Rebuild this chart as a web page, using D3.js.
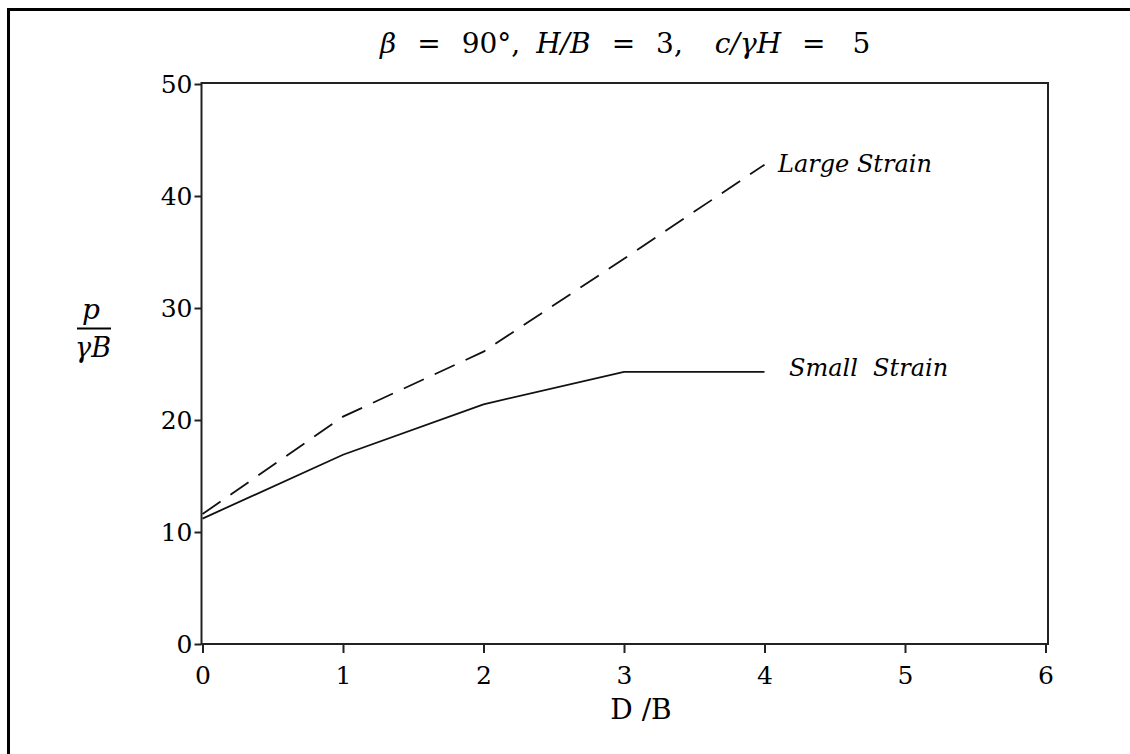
<!DOCTYPE html>
<html>
<head>
<meta charset="utf-8">
<script src="https://cdn.jsdelivr.net/npm/d3@7"></script>
<style>
  html, body { margin: 0; padding: 0; background: #fff; }
  svg { display: block; }
  text { font-family: "DejaVu Serif", "Liberation Serif", serif; fill: #000; }
</style>
</head>
<body>
<svg id="chart" width="1130" height="754"></svg>
<script>
// D/B positions along the horizontal axis
const ratioDB = [0, 1, 2, 3, 4];
// p / (gamma B) for each case
const smallStrain = [11.2, 16.9, 21.4, 24.3, 24.3];
const largeStrain = [11.6, 20.3, 26.1, 34.4, 42.8];

const xTicks = [0, 1, 2, 3, 4, 5, 6];
const yTicks = [0, 10, 20, 30, 40, 50];

const svg = d3.select("#chart");

// outer frame around the figure
svg.append("rect")
  .attr("x", 8.5).attr("y", 9.5)
  .attr("width", 1130).attr("height", 760)
  .attr("fill", "none").attr("stroke", "#000").attr("stroke-width", 3);

const x = d3.scaleLinear().domain([0, 6]).range([202.5, 1045.5]);
const y = d3.scaleLinear().domain([0, 50]).range([644, 84]);

// plot box
svg.append("rect")
  .attr("x", x(0) - 1).attr("y", y(50) - 1)
  .attr("width", x(6) - x(0) + 3.5).attr("height", y(0) - y(50) + 1)
  .attr("fill", "none").attr("stroke", "#222").attr("stroke-width", 2);

const tickFont = "'DejaVu Serif', serif";

// x axis
const xAxis = svg.append("g")
  .attr("transform", `translate(0,${y(0)})`)
  .call(d3.axisBottom(x).tickValues(xTicks).tickFormat(d3.format("d"))
    .tickSize(9).tickPadding(13));
xAxis.select(".domain").remove();
xAxis.selectAll(".tick line").attr("stroke", "#222").attr("stroke-width", 2);
xAxis.selectAll(".tick text")
  .style("font-family", tickFont)
  .style("font-size", "25px").attr("fill", "#000");

// y axis
const yAxis = svg.append("g")
  .attr("transform", `translate(${x(0) - 1},0)`)
  .call(d3.axisLeft(y).tickValues(yTicks).tickFormat(d3.format("d"))
    .tickSize(7).tickPadding(2));
yAxis.select(".domain").remove();
yAxis.selectAll(".tick line").attr("stroke", "#222").attr("stroke-width", 2);
yAxis.selectAll(".tick text")
  .style("font-family", tickFont)
  .style("font-size", "25px").attr("fill", "#000");

// curves
const line = d3.line().x((d, i) => x(ratioDB[i])).y(d => y(d));

svg.append("path")
  .datum(smallStrain)
  .attr("d", line)
  .attr("fill", "none").attr("stroke", "#111").attr("stroke-width", 1.8);

svg.append("path")
  .datum(largeStrain)
  .attr("d", line)
  .attr("fill", "none").attr("stroke", "#111").attr("stroke-width", 1.8)
  .attr("stroke-dasharray", "22,12");

// curve labels
svg.append("text")
  .attr("x", 778).attr("y", 172)
  .style("font-size", "24px").style("font-style", "italic")
  .text("Large Strain");

svg.append("text")
  .attr("x", 789).attr("y", 376)
  .style("font-size", "24px").style("font-style", "italic")
  .attr("xml:space", "preserve")
  .text("Small  Strain");

// title, laid out with math-style spacing
const title = svg.append("text")
  .attr("x", 380).attr("y", 53)
  .style("font-size", "28px")
  .attr("xml:space", "preserve");
const parts = [
  ["β", true, 0], ["=", false, 21], ["90°,", false, 21],
  ["H", true, 16], ["/B", true, 0], ["=", false, 21], ["3,", false, 21],
  ["c", true, 32], ["/γH", true, 0], ["=", false, 21], ["5", false, 27]
];
parts.forEach(([t, it, dx]) => {
  title.append("tspan")
    .attr("dx", dx)
    .style("font-style", it ? "italic" : "normal")
    .text(t);
});

// x axis title
svg.append("text")
  .attr("x", 641).attr("y", 719)
  .attr("text-anchor", "middle")
  .style("font-size", "28px")
  .text("D /B");

// y axis title as a fraction
svg.append("text")
  .attr("x", 91).attr("y", 319)
  .attr("text-anchor", "middle")
  .style("font-size", "28px").style("font-style", "italic")
  .text("p");
svg.append("line")
  .attr("x1", 77).attr("x2", 111)
  .attr("y1", 328.5).attr("y2", 328.5)
  .attr("stroke", "#000").attr("stroke-width", 2);
svg.append("text")
  .attr("x", 93).attr("y", 357)
  .attr("text-anchor", "middle")
  .style("font-size", "27px").style("font-style", "italic")
  .text("γB");
</script>
</body>
</html>
